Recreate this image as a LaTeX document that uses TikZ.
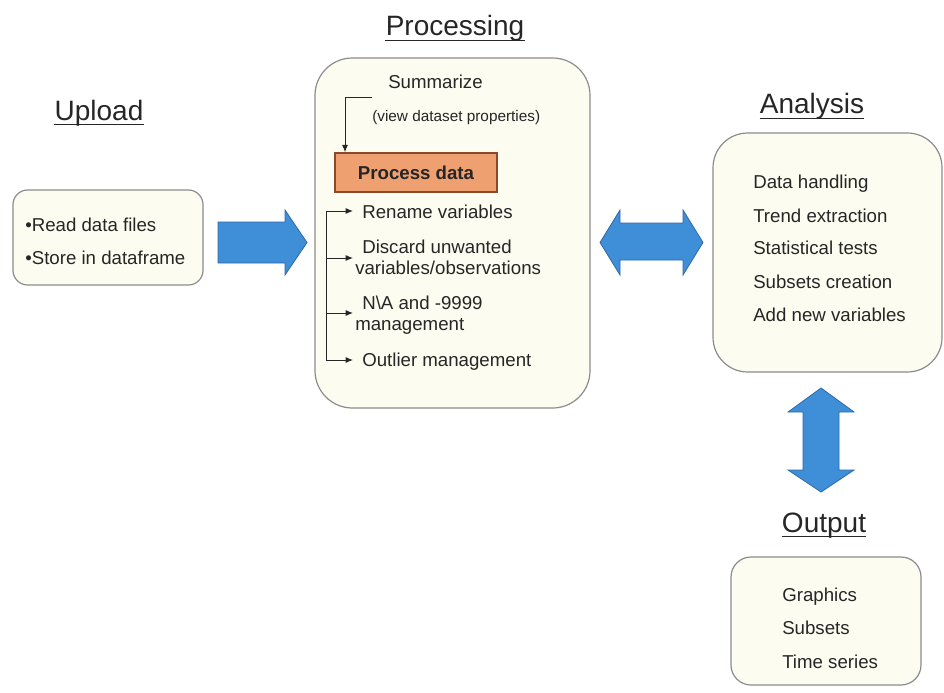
\documentclass[tikz,border=0pt]{standalone}
\usepackage{fontspec}
\setmainfont{Liberation Sans}
\usetikzlibrary{arrows.meta}
\definecolor{boxfill}{HTML}{FCFCF0}
\definecolor{boxline}{HTML}{8C8C8C}
\definecolor{procfill}{HTML}{EFA070}
\definecolor{procline}{HTML}{8A4A2A}
\definecolor{bluefill}{HTML}{3F8ED8}
\definecolor{blueline}{HTML}{2E6AA8}
\definecolor{txt}{HTML}{262626}
\begin{document}
\begin{tikzpicture}[x=0.75pt,y=-0.75pt,
  panel/.style={draw=boxline, fill=boxfill, line width=0.9pt},
  title/.style={anchor=base, font=\fontsize{21}{25}\selectfont, text=txt, inner sep=0pt},
  item/.style={anchor=base west, font=\fontsize{14}{17}\selectfont, text=txt, inner sep=0pt},
  smalltxt/.style={anchor=base west, font=\fontsize{11.5}{14}\selectfont, text=txt, inner sep=0pt},
  uline/.style={draw=txt, line width=0.7pt},
  bigarrow/.style={draw=blueline, fill=bluefill, line width=0.6pt},
  tip/.style={-{Latex[length=5.5pt,width=4.5pt]}, line width=0.7pt, draw=txt},
  plain/.style={line width=0.7pt, draw=txt},
]
\useasboundingbox (0,0) rectangle (944,692);

% ---------- Upload ----------
\node[title] (tupload) at (99,120) {Upload};
\draw[uline] ([yshift=-3pt]tupload.base west) -- ([yshift=-3pt]tupload.base east);
\draw[panel, rounded corners=11pt] (13,190) rectangle (203,285);
\node[item] (u1) at (25,231.5) {•Read data files};
\node[item] (u2) at (25,264) {•Store in dataframe};

% right arrow
\draw[bigarrow] (218,222) -- (285,222) -- (285,210) -- (307,242.5) -- (285,275) -- (285,263) -- (218,263) -- cycle;

% ---------- Processing ----------
\node[title] (tproc) at (455,36) {Processing};
\draw[uline] ([yshift=-3pt]tproc.base west) -- ([yshift=-3pt]tproc.base east);
\draw[panel, rounded corners=28pt] (315,58) rectangle (590,408);
\node[item] (summ) at (388,88) {Summarize};
\node[smalltxt] (view) at (372,121) {(view dataset properties)};
\node[draw=procline, fill=procfill, line width=1.1pt, minimum width=121.5pt, minimum height=29.25pt,
      inner sep=0pt, font=\fontsize{14}{17}\selectfont\bfseries, text=txt] (proc) at (416,172.5) {Process data};

\coordinate (sumstart) at (372,97);
\coordinate (sumcorner) at (345,97);
\draw[tip] (sumstart) -- (sumcorner) -- (sumcorner |- proc.north);

\node[item] (p1) at (362,218) {Rename variables};
\node[item] (p2a) at (362,253.5) {Discard unwanted};
\node[item] (p2b) at (355,274.5) {variables/observations};
\node[item] (p3a) at (362,309.5) {N\textbackslash A and -9999};
\node[item] (p3b) at (355,330.5) {management};
\node[item] (p4) at (362,366.5) {Outlier management};

\coordinate (s1) at (326,211);
\coordinate (s2) at (326,258);
\coordinate (s3) at (326,313);
\coordinate (s4) at (326,360);
\coordinate (e1) at (353,211);
\coordinate (e2) at (353,258);
\coordinate (e3) at (353,313);
\coordinate (e4) at (353,360);
\draw[plain] (s1) -- (s4);
\draw[tip] (s1) -- (e1);
\draw[tip] (s2) -- (e2);
\draw[tip] (s3) -- (e3);
\draw[tip] (s4) -- (e4);

% double horizontal arrow
\draw[bigarrow] (600,242.5) -- (620,210) -- (620,223) -- (683,223) -- (683,210) -- (703,242.5)
  -- (683,275) -- (683,260) -- (620,260) -- (620,275) -- cycle;

% ---------- Analysis ----------
\node[title] (tana) at (812,113) {Analysis};
\draw[uline] ([yshift=-4pt]tana.base west) -- ([yshift=-4pt]tana.base east);
\draw[panel, rounded corners=26pt] (713,133) rectangle (942,372);
\node[item] (a1) at (753,188.5) {Data handling};
\node[item] (a2) at (753,222.5) {Trend extraction};
\node[item] (a3) at (753,254.5) {Statistical tests};
\node[item] (a4) at (753,288.5) {Subsets creation};
\node[item] (a5) at (753,321.5) {Add new variables};

% vertical double arrow
\draw[bigarrow] (821,388) -- (854,412) -- (839,412) -- (839,470) -- (854,470) -- (821,492)
  -- (788,470) -- (803,470) -- (803,412) -- (788,412) -- cycle;

% ---------- Output ----------
\node[title] (tout) at (824,532) {Output};
\draw[uline] ([yshift=-3pt]tout.base west) -- ([yshift=-3pt]tout.base east);
\draw[panel, rounded corners=15pt] (731,557) rectangle (921,685);
\node[item] (o1) at (782,601.5) {Graphics};
\node[item] (o2) at (782,634.5) {Subsets};
\node[item] (o3) at (782,668.5) {Time series};
\end{tikzpicture}
\end{document}
